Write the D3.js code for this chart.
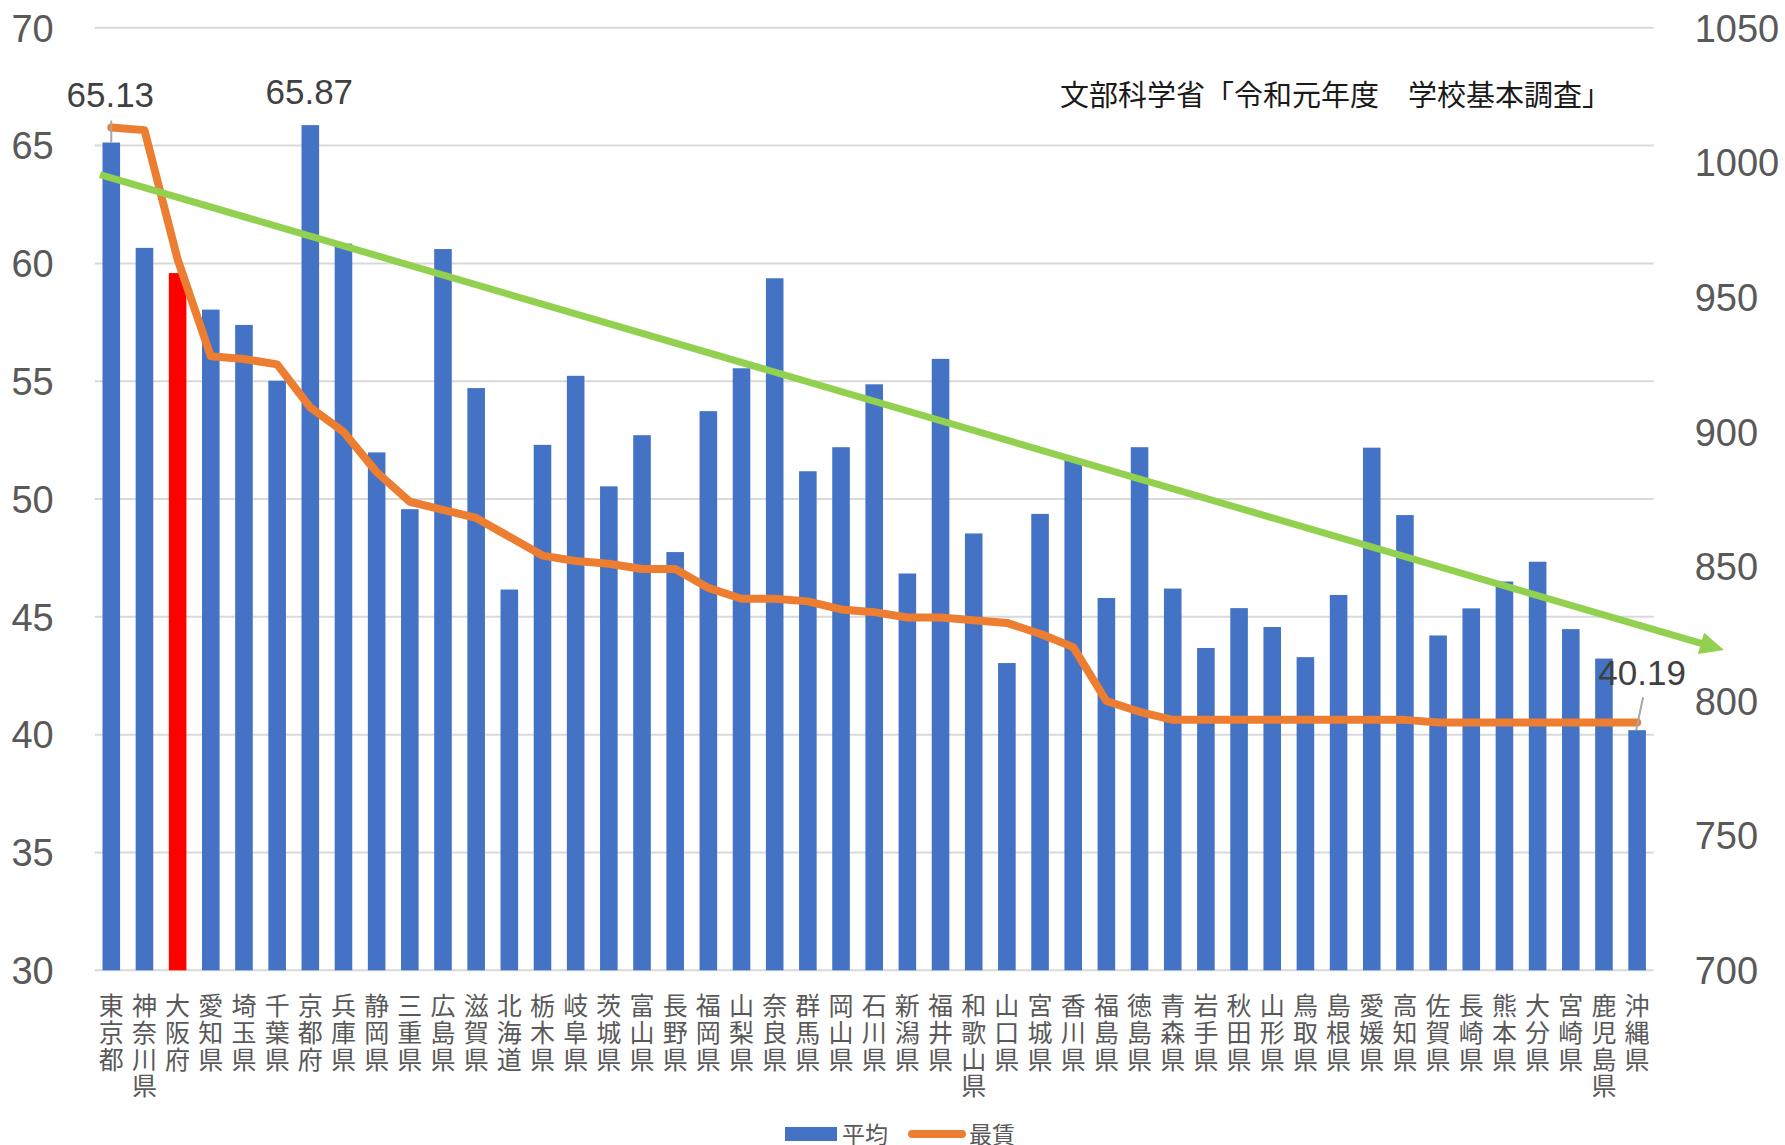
<!DOCTYPE html>
<html>
<head>
<meta charset="utf-8">
<script src="https://cdn.jsdelivr.net/npm/d3@7"></script>
<style>
  body { margin: 0; background: #fff; }
  svg { display: block; }
</style>
</head>
<body>
<svg id="chart" width="1785" height="1145"></svg>
<script>
const prefectures = [
  '東京都', '神奈川県', '大阪府', '愛知県', '埼玉県', '千葉県', '京都府', '兵庫県',
  '静岡県', '三重県', '広島県', '滋賀県', '北海道', '栃木県', '岐阜県', '茨城県',
  '富山県', '長野県', '福岡県', '山梨県', '奈良県', '群馬県', '岡山県', '石川県',
  '新潟県', '福井県', '和歌山県', '山口県', '宮城県', '香川県', '福島県', '徳島県',
  '青森県', '岩手県', '秋田県', '山形県', '鳥取県', '島根県', '愛媛県', '高知県',
  '佐賀県', '長崎県', '熊本県', '大分県', '宮崎県', '鹿児島県', '沖縄県'
];

// 平均 (left axis)
const avgRate = [
  65.13, 60.66, 59.59, 58.04, 57.39, 55.02, 65.87, 60.84,
  51.98, 49.57, 60.61, 54.71, 46.16, 52.30, 55.23, 50.54,
  52.71, 47.75, 53.73, 55.55, 59.37, 51.18, 52.20, 54.87,
  46.84, 55.95, 48.54, 43.04, 49.37, 51.70, 45.80, 52.20,
  46.20, 43.68, 45.37, 44.57, 43.29, 45.93, 52.18, 49.32,
  44.21, 45.36, 46.50, 47.34, 44.48, 43.23, 40.19
];

// 最賃 (right axis)
const minWage = [
  1013, 1012, 964, 928, 927, 925, 909, 900,
  885, 874, 871, 868, 861, 854, 852, 851,
  849, 849, 842, 838, 838, 837, 834, 833,
  831, 831, 830, 829, 825, 820, 800, 796,
  793, 793, 793, 793, 793, 793, 793, 793,
  792, 792, 792, 792, 792, 792, 792
];

const leftTicks = [30, 35, 40, 45, 50, 55, 60, 65, 70];
const rightTicks = [700, 750, 800, 850, 900, 950, 1000, 1050];
const highlighted = ['大阪府'];
const labelled = ['東京都', '京都府', '沖縄県'];
// hand drawn trend arrow: [category index, left axis value]
const trendFrom = [-0.34, 63.77];
const trendTo = [48.62, 43.59];
const legendItems = ['平均', '最賃'];
const sourceNote = '文部科学省「令和元年度　学校基本調査」';

const $svg = d3.select('#chart');
const width = 1785;
const height = 1145;
const margin = { top: 27.8, right: 131.3, bottom: 174.7, left: 94.7 };
const numFont = '"Liberation Sans", Arial, sans-serif';
const jpFont = '"Noto Sans CJK JP", "Noto Sans", sans-serif';

const x = d3
  .scaleBand()
  .domain(prefectures)
  .range([margin.left, width - margin.right])
  .paddingInner(0.47)
  .paddingOuter(0.235);

const y = d3
  .scaleLinear()
  .domain([30, 70])
  .range([height - margin.bottom, margin.top]);

const y2 = d3
  .scaleLinear()
  .domain([700, 1050])
  .range([height - margin.bottom, margin.top]);

const cx = name => x(name) + x.bandwidth() / 2;
const cxIndex = i => cx(prefectures[0]) + i * x.step();

const rows = prefectures.map((name, i) => ({ name, avg: avgRate[i], wage: minWage[i] }));

function drawGrid() {
  $svg
    .append('g')
    .attr('class', 'grid')
    .selectAll('line')
    .data(leftTicks)
    .join('line')
    .attr('x1', margin.left)
    .attr('x2', width - margin.right)
    .attr('y1', d => y(d))
    .attr('y2', d => y(d))
    .attr('stroke', '#d9d9d9')
    .attr('stroke-width', 2);
}

function drawAxes() {
  const left = $svg
    .append('g')
    .attr('transform', `translate(${margin.left},0)`)
    .call(d3.axisLeft(y).tickValues(leftTicks).tickFormat(d3.format('d')).tickSize(0).tickPadding(41));
  const right = $svg
    .append('g')
    .attr('transform', `translate(${width - margin.right},0)`)
    .call(d3.axisRight(y2).tickValues(rightTicks).tickFormat(d3.format('d')).tickSize(0).tickPadding(41));

  [left, right].forEach(g => {
    g.select('.domain').remove();
    g.selectAll('text')
      .attr('font-family', numFont)
      .attr('font-size', 38)
      .attr('fill', '#595959')
      .attr('dy', '0.35em');
  });

  // vertical category labels, one character per line
  $svg
    .append('g')
    .attr('class', 'cats')
    .selectAll('text')
    .data(prefectures)
    .join('text')
    .attr('font-family', jpFont)
    .attr('font-size', 25)
    .attr('fill', '#595959')
    .attr('text-anchor', 'middle')
    .attr('dominant-baseline', 'central')
    .selectAll('tspan')
    .data(d => Array.from(d).map(ch => ({ ch, name: d })))
    .join('tspan')
    .attr('x', d => cx(d.name))
    .attr('y', (d, i) => y(30) + 34 + i * 26.7)
    .text(d => d.ch);
}

function drawBars() {
  $svg
    .append('g')
    .attr('class', 'bars')
    .selectAll('rect')
    .data(rows)
    .join('rect')
    .attr('x', d => x(d.name))
    .attr('width', x.bandwidth())
    .attr('y', d => y(d.avg))
    .attr('height', d => y(30) - y(d.avg))
    .attr('fill', d => (highlighted.includes(d.name) ? '#ff0000' : '#4472c4'));
}

function drawWageLine() {
  const line = d3
    .line()
    .x(d => cx(d.name))
    .y(d => y2(d.wage));

  $svg
    .append('path')
    .datum(rows)
    .attr('d', line)
    .attr('fill', 'none')
    .attr('stroke', '#ed7d31')
    .attr('stroke-width', 8)
    .attr('stroke-linejoin', 'round')
    .attr('stroke-linecap', 'round');
}

function drawTrendArrow() {
  const x0 = cxIndex(trendFrom[0]);
  const y0 = y(trendFrom[1]);
  const x1 = cxIndex(trendTo[0]);
  const y1 = y(trendTo[1]);
  const len = Math.hypot(x1 - x0, y1 - y0);
  const ux = (x1 - x0) / len;
  const uy = (y1 - y0) / len;
  const headLen = 24;
  const headHalf = 11;
  const bx = x1 - ux * headLen;
  const by = y1 - uy * headLen;

  $svg
    .append('line')
    .attr('x1', x0)
    .attr('y1', y0)
    .attr('x2', bx + ux * 2)
    .attr('y2', by + uy * 2)
    .attr('stroke', '#92d050')
    .attr('stroke-width', 7);

  const head = d3.path();
  head.moveTo(x1, y1);
  head.lineTo(bx - uy * headHalf, by + ux * headHalf);
  head.lineTo(bx + uy * headHalf, by - ux * headHalf);
  head.closePath();

  $svg.append('path').attr('d', head.toString()).attr('fill', '#92d050');
}

function drawLabels() {
  // offsets of the data labels from the bar top, as placed in the original
  const offsets = {
    東京都: { dx: -1, dy: -48, leader: [[0, -22], [0, 0]] },
    京都府: { dx: -1, dy: -33, leader: null },
    沖縄県: { dx: 5, dy: -57, leader: [[6, -33], [-1, 0]] }
  };
  const fmt = d3.format('.2f');
  const items = rows.filter(d => labelled.includes(d.name));

  const g = $svg.append('g').attr('class', 'labels');

  items.forEach(d => {
    const o = offsets[d.name];
    const bx = cx(d.name);
    const by = y(d.avg);
    if (o.leader) {
      g.append('line')
        .attr('x1', bx + o.leader[0][0])
        .attr('y1', by + o.leader[0][1])
        .attr('x2', bx + o.leader[1][0])
        .attr('y2', by + o.leader[1][1])
        .attr('stroke', '#a6a6a6')
        .attr('stroke-width', 2);
    }
    g.append('text')
      .attr('x', bx + o.dx)
      .attr('y', by + o.dy)
      .attr('dy', '0.35em')
      .attr('text-anchor', 'middle')
      .attr('font-family', numFont)
      .attr('font-size', 35)
      .attr('fill', '#404040')
      .text(fmt(d.avg));
  });
}

function drawLegend() {
  const g = $svg.append('g').attr('class', 'legend');
  const ly = 1133;

  g.append('rect')
    .attr('x', 785)
    .attr('y', ly - 6)
    .attr('width', 52)
    .attr('height', 14)
    .attr('fill', '#4472c4');
  g.append('line')
    .attr('x1', 912)
    .attr('x2', 962)
    .attr('y1', ly + 1)
    .attr('y2', ly + 1)
    .attr('stroke', '#ed7d31')
    .attr('stroke-width', 8)
    .attr('stroke-linecap', 'round');

  g.selectAll('text')
    .data(legendItems)
    .join('text')
    .attr('x', (d, i) => (i === 0 ? 842 : 969))
    .attr('y', ly)
    .attr('dominant-baseline', 'central')
    .attr('font-family', jpFont)
    .attr('font-size', 23)
    .attr('fill', '#595959')
    .text(d => d);
}

function drawNote() {
  $svg
    .append('text')
    .attr('x', 1060)
    .attr('y', 93)
    .attr('dominant-baseline', 'central')
    .attr('font-family', jpFont)
    .attr('font-size', 29)
    .attr('fill', '#1a1a1a')
    .text(sourceNote);
}

function init() {
  drawGrid();
  drawAxes();
  drawBars();
  drawWageLine();
  drawTrendArrow();
  drawLabels();
  drawLegend();
  drawNote();
}

init();
</script>
</body>
</html>
